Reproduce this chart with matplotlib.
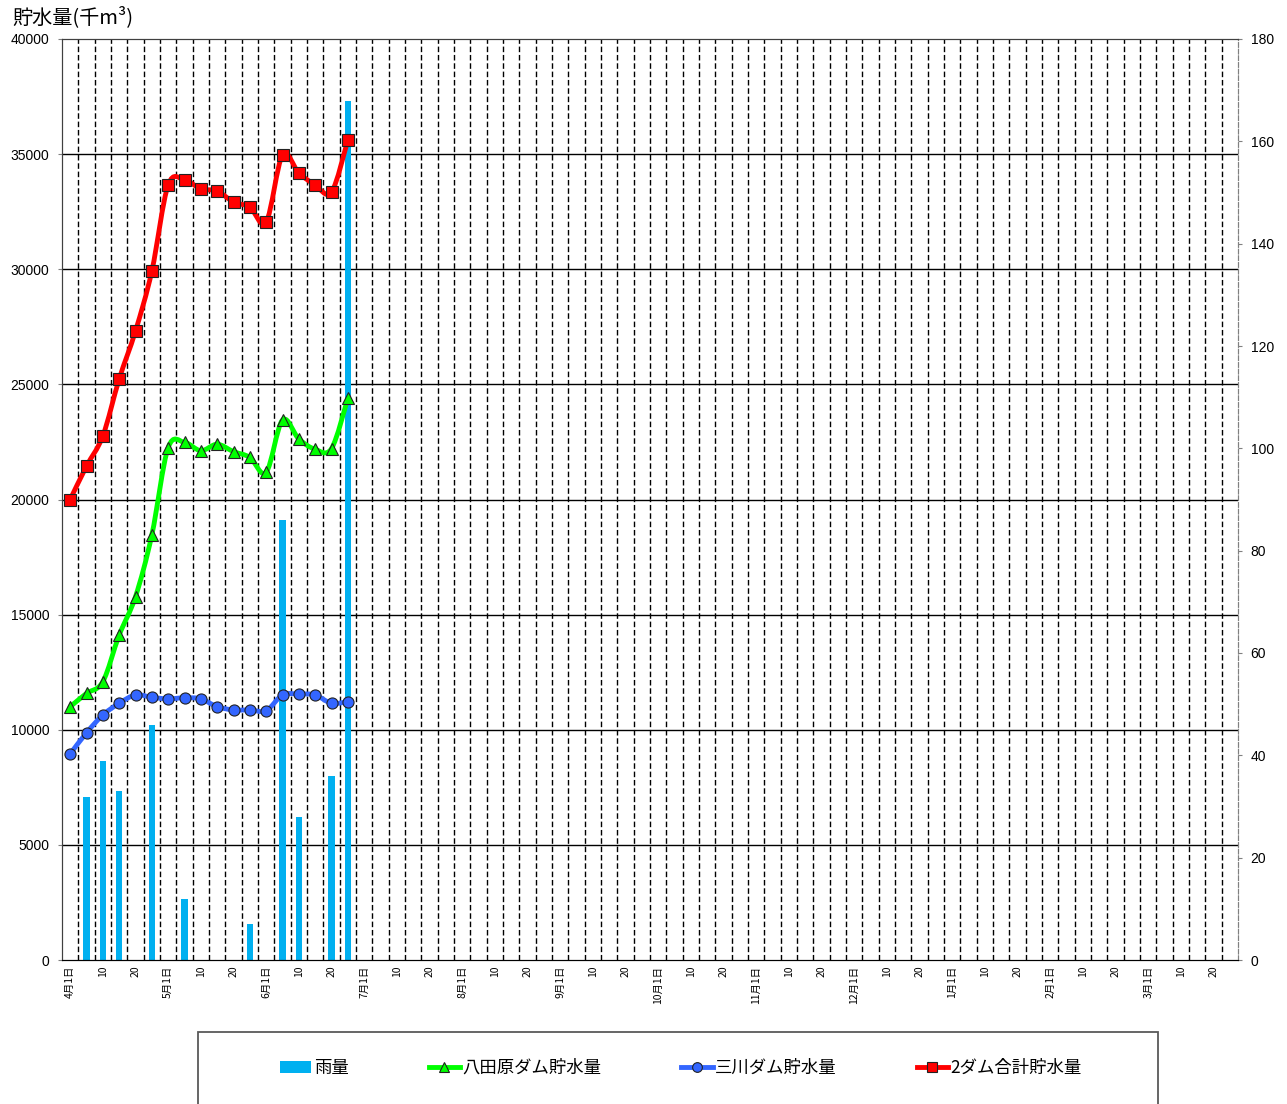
import matplotlib
matplotlib.use("Agg")
import matplotlib.pyplot as plt
from matplotlib.path import Path
from matplotlib.patches import PathPatch, Patch, Rectangle
from matplotlib.lines import Line2D

plt.rcParams['font.family'] = ['Noto Sans CJK JP', 'DejaVu Sans']

# ---- data ----
months = [4, 5, 6, 7, 8, 9, 10, 11, 12, 1, 2, 3]
slot_days = [1, 5, 10, 15, 20, 25]          # six 5-day slots per month

# observed slots (Apr 1 .. Jun 25, every 5 days)
rain = [0, 31.9, 38.9, 33.0, 0, 45.9, 0, 11.9, 0, 0, 0, 7.0, 0, 85.9, 27.9, 0, 36.0, 167.9]
hattabara = [11000, 11580, 12090, 14110, 15780, 18460, 22250, 22480, 22120, 22400,
             22080, 21830, 21180, 23450, 22630, 22180, 22210, 24390]
mikawa = [8950, 9870, 10640, 11150, 11510, 11410, 11340, 11390, 11340, 11000,
          10860, 10860, 10830, 11510, 11550, 11510, 11150, 11220]
total = [20000, 21450, 22760, 25230, 27320, 29920, 33660, 33880, 33490, 33400,
         32920, 32700, 32050, 34960, 34180, 33660, 33350, 35610]

legend_labels = ["雨量", "八田原ダム貯水量", "三川ダム貯水量", "2ダム合計貯水量"]

# ---- build categories ----
slots = []
for m in months:
    for d in slot_days:
        slots.append((m, d))
n_slots = len(slots)
xs = list(range(len(total)))

tick_pos, tick_lab = [], []
for i, (m, d) in enumerate(slots):
    if d == 1:
        tick_pos.append(i); tick_lab.append(f"{m}月1日")
    elif d in (10, 20):
        tick_pos.append(i); tick_lab.append(str(d))

W, H = 1287, 1104
fig = plt.figure(figsize=(W / 100, H / 100), dpi=100)
L, R, T, B = 62, 1238, 39, 960
ax = fig.add_axes([L / W, 1 - B / H, (R - L) / W, (B - T) / H])
axr = ax.twinx()

ax.set_xlim(-0.5, n_slots - 0.5)
ax.set_ylim(0, 40000)
axr.set_ylim(0, 180)
ax.set_zorder(axr.get_zorder() + 1)
ax.patch.set_visible(False)

# gridlines (drawn in the bar axes so bars sit on top)
for v in range(5000, 40000, 5000):
    axr.add_line(Line2D([0, 1], [v, v], transform=ax.get_yaxis_transform(),
                        color='black', lw=1.0, zorder=0.5))
for k in range(n_slots - 1):
    axr.axvline(k + 0.5, color='black', lw=1.0, ls=(0, (4, 2)), zorder=0.5)

# rain bars
axr.bar(xs, rain, width=0.4, color='#00B0F0', zorder=2)


def smooth(ax, x, y, color):
    n = len(x)
    verts = [(x[0], y[0])]
    codes = [Path.MOVETO]
    for i in range(n - 1):
        p0 = i - 1 if i > 0 else i
        p3 = i + 2 if i + 2 < n else i + 1
        c1 = (x[i] + (x[i + 1] - x[p0]) / 6, y[i] + (y[i + 1] - y[p0]) / 6)
        c2 = (x[i + 1] - (x[p3] - x[i]) / 6, y[i + 1] - (y[p3] - y[i]) / 6)
        verts += [c1, c2, (x[i + 1], y[i + 1])]
        codes += [Path.CURVE4] * 3
    ax.add_patch(PathPatch(Path(verts, codes), fill=False, edgecolor=color,
                           lw=3.5, capstyle='round', joinstyle='round', zorder=3))


series = [
    (hattabara, '#00FF00', '^', 8.5),
    (mikawa, '#3366FF', 'o', 8),
    (total, '#FF0000', 's', 8),
]
for vals, col, mk, ms in series:
    smooth(ax, xs, vals, col)
    ax.plot(xs, vals, ls='none', marker=mk, ms=ms, mfc=col, mec='#222222',
            mew=0.8, zorder=4)

# ticks
num_font = ['Liberation Sans', 'DejaVu Sans']
ax.set_xticks(tick_pos)
ax.set_xticklabels(tick_lab, rotation=90, fontsize=7.5, va='top')
ax.tick_params(axis='x', length=0, pad=4)
ax.set_yticks(range(0, 40001, 5000))
ax.tick_params(axis='y', labelsize=10, length=3, pad=6, color='#808080')
axr.set_yticks(range(0, 181, 20))
axr.tick_params(axis='y', labelsize=10, length=3, pad=6, color='#808080')
for lab in ax.get_yticklabels() + axr.get_yticklabels():
    lab.set_family(num_font)

for a in (ax, axr):
    a.spines['top'].set_color('#404040')
    a.spines['left'].set_color('#404040')
    a.spines['bottom'].set_color('black')
    a.spines['right'].set_color('#808080')
    a.spines['right'].set_linestyle((0, (4, 2)))

fig.text(12 / W, 1 - 17 / H, "貯水量(千m³)", fontsize=14.5, va='center', ha='left')

# legend box (cut off at bottom as in reference)
fig.patches.append(Rectangle((198 / W, -0.05), (1158 - 198) / W, 0.05 + (1104 - 1032) / H,
                             transform=fig.transFigure, fill=False,
                             edgecolor='#595959', lw=1.3))
handles = [
    Patch(facecolor='#00B0F0', edgecolor='none'),
    Line2D([], [], color='#00FF00', lw=3.5, marker='^', ms=7, mfc='#00FF00', mec='#222222', mew=0.8),
    Line2D([], [], color='#3366FF', lw=3.5, marker='o', ms=7, mfc='#3366FF', mec='#222222', mew=0.8),
    Line2D([], [], color='#FF0000', lw=3.5, marker='s', ms=7, mfc='#FF0000', mec='#222222', mew=0.8),
]
fig.legend(handles, legend_labels, loc='center', bbox_to_anchor=(681 / W, 1 - 1068 / H),
           ncol=4, frameon=False, fontsize=12.5, handlelength=1.8, handletextpad=0.15,
           columnspacing=4.6)

fig.savefig("out.png", dpi=100, facecolor='white')
